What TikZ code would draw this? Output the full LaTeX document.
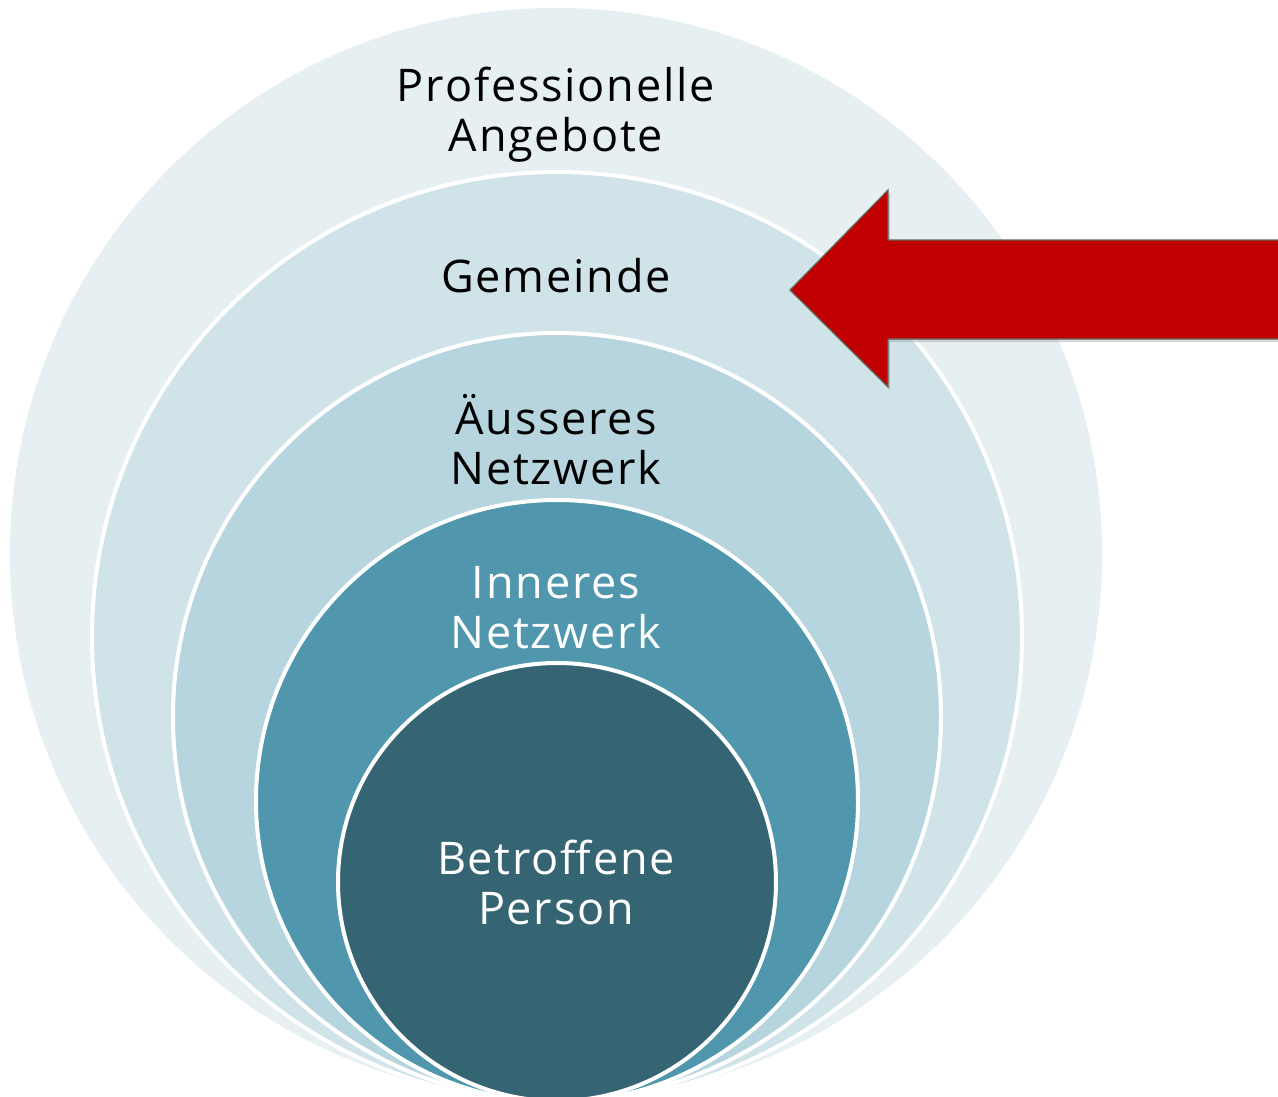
\documentclass[tikz,border=0pt]{standalone}
\usepackage{fontspec}
\setmainfont{Open Sans}[LetterSpace=4]
\usetikzlibrary{shadows}
\definecolor{c1}{HTML}{E6EFF2}
\definecolor{c2}{HTML}{D0E3E9}
\definecolor{c3}{HTML}{B7D5DE}
\definecolor{c4}{HTML}{5097AE}
\definecolor{c5}{HTML}{356573}
\definecolor{arrowred}{HTML}{C00000}
\definecolor{arrowedge}{HTML}{5E6B5E}
\begin{document}
\begin{tikzpicture}[x=1pt,y=-1pt,
  ring/.style={circle,draw=white,line width=4pt,inner sep=0pt},
  lbl/.style={align=center,font=\fontsize{45}{50}\selectfont,inner sep=0pt},
  dark/.style={lbl,text=black},
  light/.style={lbl,text=white}]
\useasboundingbox (0,0) rectangle (1278,1097);
\clip (0,0) rectangle (1278,1097);
\fill[white] (0,0) rectangle (1278,1097);
\node[ring,draw=none,fill=c1,minimum size=1092pt] (r1) at (556,554) {};
\node[ring,fill=c2,minimum size=930pt] (r2) at (557,637) {};
\node[ring,fill=c3,minimum size=768pt] (r3) at (557,717) {};
\node[ring,fill=c4,minimum size=602pt] (r4) at (557,801) {};
\node[ring,fill=c5,minimum size=438pt] (r5) at (557,882) {};
\node[dark] (t1) at (556,115) {Professionelle\\Angebote};
\node[dark] (t2) at (556,276) {Gemeinde};
\node[dark] (t3) at (556,440) {Äusseres\\Netzwerk};
\node[light] (t4) at (556,608) {Inneres\\Netzwerk};
\node[light] (t5) at (556,882) {Betroffene\\Person};
\coordinate (tip) at (790,290);
\draw[fill=arrowred,draw=arrowedge,line width=1.2pt,
  drop shadow={opacity=0.3,shadow xshift=2pt,shadow yshift=-3pt}]
  (tip) -- (888,190) -- (888,240) -- (1285,240) -- (1285,339) -- (888,339) -- (888,387) -- cycle;
\end{tikzpicture}
\end{document}
